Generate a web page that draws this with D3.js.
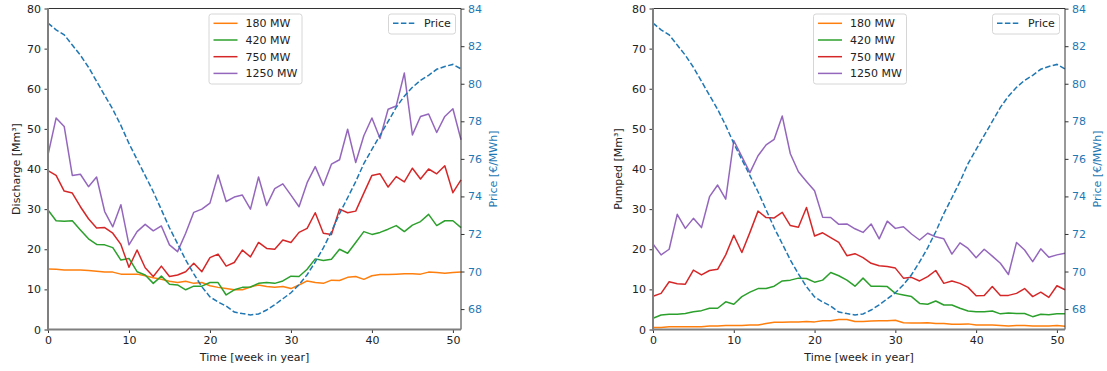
<!DOCTYPE html>
<html>
<head>
<meta charset="utf-8">
<script src="https://cdn.jsdelivr.net/npm/d3@7"></script>
<style>
  html, body { margin: 0; padding: 0; background: #fff; }
  svg { display: block; font-family: "DejaVu Sans", sans-serif; }
</style>
</head>
<body>
<svg id="chart" width="1107" height="371"></svg>
<script>
// Weekly values (week 0..51)
const weeks = d3.range(0, 52);

const price = [83.23, 82.87, 82.61, 82.06, 81.52, 80.88, 80.13, 79.38, 78.64, 77.78,
  76.82, 75.96, 75.11, 74.25, 73.29, 72.33, 71.48, 70.62, 69.87, 69.19,
  68.65, 68.38, 68.16, 67.84, 67.76, 67.69, 67.74, 67.95, 68.23, 68.55,
  68.87, 69.30, 69.83, 70.51, 71.26, 72.12, 73.08, 73.93, 74.79, 75.75,
  76.50, 77.25, 77.99, 78.74, 79.34, 79.81, 80.18, 80.45, 80.77, 80.92,
  81.03, 80.79];

// Discharge [Mm³]
const discharge180 = [15.1, 15.0, 14.8, 14.8, 14.8, 14.7, 14.5, 14.3, 14.3, 13.8,
  13.8, 13.8, 13.4, 12.9, 12.5, 12.0, 11.7, 12.0, 11.5, 11.7,
  10.9, 10.5, 10.2, 9.9, 9.9, 10.6, 11.1, 10.7, 10.5, 10.7,
  10.2, 11.1, 12.1, 11.7, 11.5, 12.3, 12.2, 13.0, 13.2, 12.5,
  13.4, 13.7, 13.7, 13.8, 13.9, 13.9, 13.8, 14.3, 14.2, 14.0,
  14.2, 14.3];
const discharge420 = [29.8, 27.1, 27.0, 27.1, 24.8, 22.6, 21.2, 21.1, 20.4, 17.3,
  17.7, 14.4, 13.6, 11.5, 13.3, 11.3, 11.1, 9.9, 10.8, 10.8,
  11.7, 11.7, 8.6, 9.9, 10.5, 10.6, 11.5, 11.7, 11.5, 12.1,
  13.3, 13.2, 15.0, 17.6, 17.2, 17.5, 20.0, 19.0, 21.7, 24.4,
  23.7, 24.2, 25.0, 25.9, 24.4, 26.0, 26.9, 28.7, 25.9, 27.1,
  27.1, 25.4];
const discharge750 = [39.6, 38.4, 34.5, 34.0, 30.6, 27.6, 25.3, 25.4, 24.0, 21.2,
  15.5, 19.8, 15.4, 13.2, 15.8, 13.2, 13.6, 14.4, 16.5, 14.4,
  17.9, 18.8, 15.8, 16.7, 19.8, 18.1, 21.7, 20.2, 20.0, 22.3,
  21.7, 24.2, 25.2, 29.1, 24.0, 23.7, 30.0, 29.1, 29.5, 34.0,
  38.4, 38.8, 35.5, 38.1, 36.8, 40.2, 37.5, 40.0, 38.8, 40.8,
  34.1, 37.3];
const discharge1250 = [43.5, 52.7, 50.6, 38.4, 38.7, 35.6, 38.0, 29.4, 25.6, 31.1,
  21.1, 24.4, 26.2, 24.6, 25.8, 21.1, 19.4, 24.0, 29.2, 30.0,
  31.5, 38.5, 31.9, 33.0, 33.5, 30.0, 38.0, 30.9, 35.1, 36.3,
  33.5, 30.6, 36.6, 40.6, 35.9, 41.2, 42.3, 49.9, 41.6, 48.3,
  52.7, 47.6, 54.9, 55.7, 63.9, 48.5, 53.1, 53.7, 49.1, 53.1,
  55.0, 47.3];

// Pumped [Mm³]
const pumped180 = [0.5, 0.5, 0.7, 0.7, 0.7, 0.7, 0.7, 0.9, 0.9, 1.0,
  1.0, 1.0, 1.1, 1.1, 1.5, 1.8, 1.8, 1.9, 1.9, 2.0,
  1.9, 2.2, 2.2, 2.5, 2.5, 2.0, 2.0, 2.1, 2.2, 2.2,
  2.3, 1.7, 1.6, 1.6, 1.7, 1.5, 1.5, 1.3, 1.3, 1.4,
  1.1, 1.1, 1.1, 1.0, 0.9, 1.0, 1.0, 0.9, 0.9, 0.9,
  1.0, 0.8];
const pumped420 = [2.8, 3.6, 3.8, 3.8, 4.0, 4.4, 4.7, 5.3, 5.3, 6.9,
  6.3, 8.2, 9.3, 10.2, 10.2, 10.8, 12.1, 12.3, 12.8, 12.7,
  11.8, 12.3, 14.2, 13.4, 12.3, 10.8, 12.8, 10.8, 10.8, 10.7,
  9.0, 8.6, 8.2, 6.5, 6.3, 7.1, 6.1, 6.1, 5.3, 4.6,
  4.4, 4.4, 4.6, 3.9, 4.1, 4.0, 4.0, 3.2, 3.8, 3.7,
  3.9, 3.9];
const pumped750 = [8.3, 9.0, 11.9, 11.4, 11.3, 14.8, 13.6, 14.7, 15.0, 18.6,
  23.5, 19.2, 24.2, 29.5, 27.9, 27.8, 29.2, 25.9, 25.5, 30.4,
  23.3, 24.1, 22.9, 21.7, 18.4, 18.9, 17.9, 16.5, 15.9, 15.7,
  15.3, 12.8, 13.0, 12.1, 13.2, 14.7, 11.5, 12.1, 11.5, 10.5,
  8.4, 8.5, 10.7, 8.5, 8.5, 9.0, 10.2, 8.2, 9.3, 8.0,
  10.9, 9.9];
const pumped1250 = [21.3, 18.6, 20.0, 28.7, 25.2, 27.7, 25.4, 33.1, 36.0, 32.5,
  47.1, 43.1, 39.1, 43.3, 46.0, 47.4, 53.2, 43.8, 39.3, 36.9,
  34.6, 28.0, 27.9, 26.2, 26.3, 25.1, 24.2, 26.3, 22.6, 27.0,
  25.2, 25.6, 23.8, 22.3, 24.0, 23.1, 22.6, 18.8, 21.6, 20.2,
  17.9, 20.0, 18.3, 16.5, 13.7, 21.7, 19.8, 16.9, 20.1, 18.0,
  18.6, 19.0];

const seriesNames = ["180 MW", "420 MW", "750 MW", "1250 MW"];
const seriesColors = ["#ff7f0e", "#2ca02c", "#d62728", "#9467bd"];
const priceColor = "#1f77b4";
const volumeTicks = [0, 10, 20, 30, 40, 50, 60, 70, 80];
const priceTicks = [68, 70, 72, 74, 76, 78, 80, 82, 84];
const weekTicks = [0, 10, 20, 30, 40, 50];

const panels = [
  { left: 48, right: 461, yLabel: "Discharge [Mm³]", yLabelX: 16, priceLabelX: 493,
    series: [discharge180, discharge420, discharge750, discharge1250] },
  { left: 653, right: 1065, yLabel: "Pumped [Mm³]", yLabelX: 618, priceLabelX: 1097,
    series: [pumped180, pumped420, pumped750, pumped1250] }
];

const plotTop = 8.5, plotBottom = 329.5;
const svg = d3.select("#chart");
const textColor = "#222";
const fontSize = 11;

// twin-axis price range with a 5% margin around the data
const [pMin, pMax] = d3.extent(price);
const pPad = (pMax - pMin) * 0.05;

panels.forEach(p => {
  const x = d3.scaleLinear().domain([0, 51]).range([p.left, p.right]);
  const y = d3.scaleLinear().domain([0, 80]).range([plotBottom, plotTop]);
  const yP = d3.scaleLinear().domain([pMin - pPad, pMax + pPad]).range([plotBottom, plotTop]);

  const g = svg.append("g");

  // series lines
  const line = d3.line().x((d, i) => x(weeks[i])).y(d => y(d));
  p.series.forEach((s, k) => {
    g.append("path").datum(s)
      .attr("fill", "none")
      .attr("stroke", seriesColors[k])
      .attr("stroke-width", 1.5)
      .attr("stroke-linejoin", "round")
      .attr("d", line);
  });

  // price line on the secondary axis
  const pLine = d3.line().x((d, i) => x(weeks[i])).y(d => yP(d));
  g.append("path").datum(price)
    .attr("fill", "none")
    .attr("stroke", priceColor)
    .attr("stroke-width", 1.5)
    .attr("stroke-dasharray", "5.5,2.4")
    .attr("d", pLine);

  // axes
  const xAxis = g.append("g").attr("transform", `translate(0,${plotBottom})`)
    .call(d3.axisBottom(x).tickValues(weekTicks).tickSize(3.5).tickPadding(3.5).tickFormat(d3.format("d")));
  const yAxis = g.append("g").attr("transform", `translate(${p.left},0)`)
    .call(d3.axisLeft(y).tickValues(volumeTicks).tickSize(3.5).tickPadding(3.5).tickFormat(d3.format("d")));
  const pAxis = g.append("g").attr("transform", `translate(${p.right},0)`)
    .call(d3.axisRight(yP).tickValues(priceTicks).tickSize(3.5).tickPadding(3.5).tickFormat(d3.format("d")));

  [xAxis, yAxis].forEach(a => {
    a.select(".domain").remove();
    a.selectAll("text").attr("fill", textColor).style("font-size", fontSize + "px").style("font-family", "DejaVu Sans");
    a.selectAll("line").attr("stroke", "#333");
  });
  pAxis.select(".domain").remove();
  pAxis.selectAll("text").attr("fill", priceColor).style("font-size", fontSize + "px").style("font-family", "DejaVu Sans");
  pAxis.selectAll("line").attr("stroke", "#333");

  // frame
  g.append("line").attr("x1", p.left).attr("x2", p.right).attr("y1", plotTop).attr("y2", plotTop)
    .attr("stroke", "#333").attr("stroke-width", 1);
  g.append("line").attr("x1", p.right).attr("x2", p.right).attr("y1", plotTop).attr("y2", plotBottom)
    .attr("stroke", "#333").attr("stroke-width", 1);
  g.append("line").attr("x1", p.left).attr("x2", p.left).attr("y1", plotTop - 0.5).attr("y2", plotBottom + 1)
    .attr("stroke", "#7f7f7f").attr("stroke-width", 2);
  g.append("line").attr("x1", p.left - 1).attr("x2", p.right).attr("y1", plotBottom).attr("y2", plotBottom)
    .attr("stroke", "#7f7f7f").attr("stroke-width", 2);

  // axis titles
  g.append("text").attr("x", (p.left + p.right) / 2).attr("y", 361)
    .attr("text-anchor", "middle").attr("fill", textColor).style("font-size", fontSize + "px")
    .text("Time [week in year]");
  g.append("text").attr("transform", `translate(${p.yLabelX + 4},${(plotTop + plotBottom) / 2}) rotate(-90)`)
    .attr("text-anchor", "middle").attr("fill", textColor).style("font-size", fontSize + "px")
    .text(p.yLabel);
  g.append("text").attr("transform", `translate(${p.priceLabelX + 4},${(plotTop + plotBottom) / 2}) rotate(-90)`)
    .attr("text-anchor", "middle").attr("fill", priceColor).style("font-size", fontSize + "px")
    .text("Price [€/MWh]");

  // series legend (upper center)
  const legW = 93, legH = 70;
  const legX = (p.left + p.right) / 2 - 45.5;
  const leg = g.append("g").attr("transform", `translate(${legX},14)`);
  leg.append("rect").attr("width", legW).attr("height", legH).attr("rx", 2.5)
    .attr("fill", "rgba(255,255,255,0.8)").attr("stroke", "#d6d6d6").attr("stroke-width", 1);
  seriesNames.forEach((name, k) => {
    const yy = 9.3 + k * 16.7;
    leg.append("line").attr("x1", 4.5).attr("x2", 28.5).attr("y1", yy).attr("y2", yy)
      .attr("stroke", seriesColors[k]).attr("stroke-width", 1.5);
    leg.append("text").attr("x", 36.5).attr("y", yy).attr("dy", "0.35em")
      .attr("fill", textColor).style("font-size", fontSize + "px").text(name);
  });

  // price legend (upper right)
  const pl = g.append("g").attr("transform", `translate(${p.right - 72.5},14)`);
  pl.append("rect").attr("width", 67).attr("height", 20).attr("rx", 2.5)
    .attr("fill", "rgba(255,255,255,0.8)").attr("stroke", "#d6d6d6").attr("stroke-width", 1);
  pl.append("line").attr("x1", 4.5).attr("x2", 27.5).attr("y1", 9.3).attr("y2", 9.3)
    .attr("stroke", priceColor).attr("stroke-width", 1.5).attr("stroke-dasharray", "5.5,2.4");
  pl.append("text").attr("x", 35.5).attr("y", 9.3).attr("dy", "0.35em")
    .attr("fill", textColor).style("font-size", fontSize + "px").text("Price");
});
</script>
</body>
</html>
